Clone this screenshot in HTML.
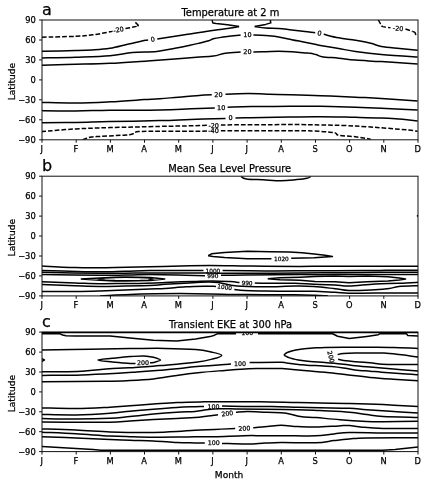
<!DOCTYPE html>
<html><head><meta charset="utf-8"><title>figure</title>
<style>html,body{margin:0;padding:0;background:#fff}svg{display:block}text{font-family:"DejaVu Sans","Liberation Sans",sans-serif;fill:#000;stroke:#000;stroke-width:0.25px}</style>
</head><body>
<svg width="427" height="484" viewBox="0 0 427 484">
<rect width="427" height="484" fill="#fff"/>
<g>
<clipPath id="cpa"><rect x="42.0" y="20.0" width="376.0" height="119.8"/></clipPath>
<g clip-path="url(#cpa)" fill="none" stroke="#000" stroke-width="1.50" stroke-linejoin="round">
<path d="M42.0 51.2 C48.1 51.1 66.8 50.8 75.8 50.6 C84.8 50.4 85.8 50.4 92.0 50.0 C98.2 49.6 103.4 49.4 110.0 48.3 C116.6 47.2 122.3 45.4 128.7 44.0 C135.1 42.6 142.1 41.0 145.6 40.3 C149.1 39.6 147.6 40.0 148.0 39.9"/>
<path d="M157.3 38.9 C160.5 38.4 169.1 37.2 175.0 36.3 C180.9 35.4 185.3 34.7 190.0 34.0 C194.7 33.3 196.8 33.0 201.2 32.3 C205.6 31.6 209.6 30.9 214.3 30.2 C219.0 29.5 223.0 29.1 227.5 28.5 C232.0 27.9 237.0 26.9 239.1 26.6"/>
<path d="M239.1 26.6 L227.5 24.7 L216.2 23.6 L212.8 22.9 L212.1 20.0"/>
<path d="M270.3 20.0 L270.8 22.9 L265.6 24.4 L254.7 26.6"/>
<path d="M254.7 26.6 C256.7 26.9 261.3 27.8 265.6 28.1 C269.9 28.4 274.0 28.2 278.7 28.5 C283.4 28.8 287.1 29.5 291.8 30.0 C296.5 30.5 300.7 31.0 304.9 31.5 C309.1 32.0 313.3 32.6 315.2 32.8"/>
<path d="M323.7 34.3 C326.4 34.9 333.0 36.8 338.7 37.8 C344.4 38.9 349.7 39.3 355.5 40.3 C361.2 41.3 366.0 42.2 370.7 43.3 C375.3 44.4 376.1 45.4 381.3 46.4 C386.5 47.3 393.1 47.8 399.6 48.5 C406.1 49.2 414.3 50.0 417.6 50.3"/>
<path d="M42.0 57.9 C48.1 57.8 63.6 57.7 75.8 57.3 C88.0 56.9 99.8 56.7 110.0 55.8 C120.2 54.9 124.1 53.3 132.5 52.5 C140.9 51.7 149.2 52.3 156.8 51.5 C164.5 50.7 169.0 49.4 175.0 48.3 C181.0 47.2 185.3 46.3 190.0 45.3 C194.7 44.3 197.8 43.5 201.2 42.7 C204.6 41.9 206.3 41.5 208.7 40.8 C211.1 40.1 210.9 39.4 214.3 38.6 C217.7 37.8 222.8 37.1 227.5 36.5 C232.2 35.9 238.2 35.3 240.6 35.0"/>
<path d="M253.4 34.9 C255.6 35.0 261.0 35.2 265.6 35.6 C270.2 36.0 274.0 36.2 278.7 36.9 C283.4 37.6 287.1 38.7 291.8 39.7 C296.5 40.7 300.5 41.3 304.9 42.2 C309.3 43.1 313.4 44.0 316.2 44.6 C319.0 45.2 316.4 44.7 320.4 45.4 C324.5 46.1 332.4 47.4 338.7 48.5 C345.0 49.6 347.8 50.4 355.5 51.5 C363.1 52.6 370.2 53.6 381.3 54.6 C392.5 55.6 411.0 56.6 417.6 57.0"/>
<path d="M42.0 65.2 C48.1 65.0 63.6 64.6 75.8 64.3 C88.0 64.0 97.1 63.9 110.0 63.3 C122.9 62.7 135.3 61.7 147.5 60.9 C159.7 60.1 169.2 59.4 178.0 58.7 C186.8 58.0 190.1 57.7 196.5 57.2 C202.9 56.7 208.1 56.8 213.3 56.1 C218.5 55.4 220.5 53.9 225.4 53.2 C230.3 52.5 237.9 52.3 240.7 52.1"/>
<path d="M253.4 51.9 C255.6 51.9 261.0 51.8 265.6 51.7 C270.2 51.6 274.0 51.3 278.7 51.3 C283.4 51.3 287.1 51.4 291.8 51.7 C296.5 52.0 301.9 52.8 304.9 53.0 C307.9 53.2 306.3 52.8 308.3 53.1 C310.2 53.3 313.4 53.9 315.9 54.6 C318.3 55.2 317.9 56.1 322.0 56.7 C326.1 57.4 332.7 57.6 338.7 58.2 C344.7 58.8 347.8 59.5 355.5 60.1 C363.1 60.7 370.2 60.9 381.3 61.6 C392.5 62.3 411.0 63.6 417.6 64.0"/>
<path d="M41.4 102.4 C47.6 102.5 63.5 103.1 75.8 103.0 C88.1 102.9 97.6 102.4 109.9 101.8 C122.2 101.2 135.0 100.2 144.0 99.6 C153.0 99.1 153.8 99.2 160.0 98.7 C166.2 98.3 171.7 97.7 178.3 97.2 C184.8 96.7 190.5 96.1 196.5 95.7 C202.6 95.2 209.0 94.9 211.8 94.8"/>
<path d="M225.5 94.2 C229.6 94.0 240.3 93.5 248.3 93.5 C256.2 93.5 262.1 93.9 269.6 94.2 C277.1 94.4 280.8 94.5 290.0 94.8 C299.2 95.0 308.7 95.2 320.4 95.7 C332.2 96.1 344.5 96.7 355.5 97.2 C366.4 97.7 370.2 97.8 381.3 98.4 C392.5 99.1 411.0 100.4 417.6 100.9"/>
<path d="M41.4 110.6 C47.6 110.7 63.5 111.0 75.8 110.9 C88.1 110.8 94.7 110.5 109.9 110.3 C125.1 110.1 145.5 110.3 160.0 110.0 C174.5 109.7 180.6 109.2 190.4 108.8 C200.3 108.4 210.4 108.0 214.8 107.9"/>
<path d="M227.6 107.2 C231.9 107.1 240.1 106.8 251.3 106.6 C262.6 106.5 277.6 106.4 290.0 106.3 C302.4 106.3 308.7 106.2 320.4 106.3 C332.2 106.5 344.5 106.9 355.5 107.2 C366.4 107.6 370.2 107.7 381.3 108.2 C392.5 108.7 411.0 109.7 417.6 110.0"/>
<path d="M41.4 122.8 C47.6 122.7 63.5 122.7 75.8 122.5 C88.1 122.3 94.7 121.9 109.9 121.6 C125.1 121.2 145.5 121.0 160.0 120.6 C174.5 120.3 178.7 119.8 190.4 119.4 C202.2 119.0 219.2 118.7 225.5 118.5"/>
<path d="M235.5 117.9 C240.5 117.8 253.7 117.8 263.5 117.6 C273.3 117.4 279.8 117.2 290.0 117.0 C300.2 116.8 308.7 116.6 320.4 116.7 C332.2 116.7 344.5 117.1 355.5 117.3 C366.4 117.5 373.4 117.6 381.3 117.9 C389.3 118.2 393.1 118.6 399.6 119.1 C406.1 119.7 414.3 120.6 417.6 120.9"/>
<path d="M41.4 131.6 C47.6 131.1 63.5 129.6 75.8 128.9 C88.1 128.2 94.7 128.1 109.9 127.6 C125.1 127.2 145.5 126.8 160.0 126.4 C174.5 126.1 181.7 126.0 190.4 125.8 C199.2 125.6 205.4 125.3 208.7 125.2" stroke-dasharray="4.7 2.0"/>
<path d="M220.9 124.9 C233.3 124.9 272.1 124.6 290.0 124.6 C307.9 124.6 310.6 124.7 320.4 124.9 C330.3 125.1 336.6 125.2 344.8 125.5 C353.0 125.8 358.4 126.2 366.1 126.7 C373.8 127.2 379.8 127.7 387.4 128.3 C395.1 128.9 403.3 129.5 408.7 130.1 C414.2 130.6 416.0 131.1 417.6 131.3" stroke-dasharray="4.7 2.0"/>
<path d="M82.7 139.8 C83.3 139.5 84.5 139.0 86.0 138.5 C87.5 138.0 88.7 137.5 91.2 137.1 C93.7 136.7 95.7 136.7 100.0 136.4 C104.3 136.1 110.3 135.9 115.0 135.6 C119.7 135.3 122.9 135.3 126.0 135.0 C129.1 134.7 130.2 134.7 132.4 134.0 C134.7 133.4 133.5 132.1 138.5 131.6 C143.5 131.1 150.7 131.4 160.0 131.3 C169.3 131.2 181.7 131.4 190.4 131.3 C199.2 131.2 205.4 131.1 208.7 131.0" stroke-dasharray="4.7 2.0"/>
<path d="M220.9 130.7 C233.3 130.7 273.2 130.6 290.0 130.7 C306.8 130.7 307.2 130.7 314.4 131.0 C321.5 131.3 325.7 131.8 329.6 132.2 C333.4 132.6 334.0 132.6 335.7 133.1 C337.3 133.7 335.1 134.6 338.7 135.3 C342.3 135.9 349.7 136.1 355.5 136.8 C361.2 137.5 367.9 138.8 370.7 139.2" stroke-dasharray="4.7 2.0"/>
<path d="M42.0 37.2 C48.1 37.0 66.7 36.7 75.8 36.3 C84.9 35.9 86.6 35.6 92.8 34.8 C99.0 34.0 106.5 32.4 110.0 31.8 C113.5 31.2 112.0 31.3 112.5 31.2" stroke-dasharray="4.7 2.0"/>
<path d="M125.5 28.6 L137.6 26.2" stroke-dasharray="4.7 2.0"/>
<path d="M137.6 26.2 L138.3 25.2 L135.4 22.4"/>
<path d="M378.3 19.9 C378.7 20.6 379.9 22.9 380.7 24.1 C381.5 25.3 381.1 25.9 382.9 26.6 C384.6 27.2 389.1 27.6 390.5 27.8" stroke-dasharray="4.7 2.0"/>
<path d="M405.5 29.0 L412.5 31.4" stroke-dasharray="4.7 2.0"/>
<path d="M412.5 31.4 L415.0 32.4 L415.9 34.9"/>
</g>
<g clip-path="url(#cpa)">
<g transform="translate(152.7 39.4) rotate(-12.0)">
<text x="0" y="2.3" font-size="6.5" text-anchor="middle">0</text>
</g>
<g transform="translate(319.5 33.2) rotate(12.0)">
<text x="0" y="2.3" font-size="6.5" text-anchor="middle">0</text>
</g>
<g transform="translate(247.4 34.8) rotate(0.0)">
<text x="0" y="2.3" font-size="6.5" text-anchor="middle">10</text>
</g>
<g transform="translate(247.4 51.8) rotate(0.0)">
<text x="0" y="2.3" font-size="6.5" text-anchor="middle">20</text>
</g>
<g transform="translate(218.5 94.8) rotate(0.0)">
<text x="0" y="2.3" font-size="6.5" text-anchor="middle">20</text>
</g>
<g transform="translate(221.2 107.6) rotate(0.0)">
<text x="0" y="2.3" font-size="6.5" text-anchor="middle">10</text>
</g>
<g transform="translate(230.6 117.9) rotate(0.0)">
<text x="0" y="2.3" font-size="6.5" text-anchor="middle">0</text>
</g>
<g transform="translate(213.7 125.3) rotate(0.0)">
<text x="0" y="2.3" font-size="6.5" text-anchor="middle">-20</text>
</g>
<g transform="translate(213.5 130.9) rotate(0.0)">
<text x="0" y="2.3" font-size="6.5" text-anchor="middle">-40</text>
</g>
<g transform="translate(118.5 29.7) rotate(-10.0)">
<text x="0" y="2.3" font-size="6.5" text-anchor="middle">-20</text>
</g>
<g transform="translate(398.1 28.4) rotate(6.0)">
<text x="0" y="2.3" font-size="6.5" text-anchor="middle">-20</text>
</g>
</g>
<rect x="42.0" y="20.0" width="376.0" height="119.8" fill="none" stroke="#111" stroke-width="1.00"/>
<path d="M42.0 20.0h-2.9M42.0 40.0h-2.9M42.0 59.9h-2.9M42.0 79.9h-2.9M42.0 99.8h-2.9M42.0 119.8h-2.9M42.0 139.8h-2.9M42.0 139.8v2.9M76.2 139.8v2.9M110.4 139.8v2.9M144.5 139.8v2.9M178.7 139.8v2.9M212.9 139.8v2.9M247.1 139.8v2.9M281.3 139.8v2.9M315.5 139.8v2.9M349.6 139.8v2.9M383.8 139.8v2.9M418.0 139.8v2.9" stroke="#111" stroke-width="1.00" fill="none"/>
<text x="35.7" y="23.1" font-size="8.3" text-anchor="end">90</text>
<text x="35.7" y="43.1" font-size="8.3" text-anchor="end">60</text>
<text x="35.7" y="63.0" font-size="8.3" text-anchor="end">30</text>
<text x="35.7" y="83.0" font-size="8.3" text-anchor="end">0</text>
<text x="35.7" y="102.9" font-size="8.3" text-anchor="end">−30</text>
<text x="35.7" y="122.9" font-size="8.3" text-anchor="end">−60</text>
<text x="35.7" y="142.8" font-size="8.3" text-anchor="end">−90</text>
<text x="41.7" y="152.2" font-size="8.3" text-anchor="middle">J</text>
<text x="75.9" y="152.2" font-size="8.3" text-anchor="middle">F</text>
<text x="110.1" y="152.2" font-size="8.3" text-anchor="middle">M</text>
<text x="144.2" y="152.2" font-size="8.3" text-anchor="middle">A</text>
<text x="178.4" y="152.2" font-size="8.3" text-anchor="middle">M</text>
<text x="212.6" y="152.2" font-size="8.3" text-anchor="middle">J</text>
<text x="246.8" y="152.2" font-size="8.3" text-anchor="middle">J</text>
<text x="281.0" y="152.2" font-size="8.3" text-anchor="middle">A</text>
<text x="315.2" y="152.2" font-size="8.3" text-anchor="middle">S</text>
<text x="349.3" y="152.2" font-size="8.3" text-anchor="middle">O</text>
<text x="383.5" y="152.2" font-size="8.3" text-anchor="middle">N</text>
<text x="417.7" y="152.2" font-size="8.3" text-anchor="middle">D</text>
<text x="230.4" y="15.8" font-size="9.90" text-anchor="middle">Temperature at 2 m</text>
<text x="41.9" y="14.8" font-size="16.0">a</text>
<text transform="translate(14.5 81.6) rotate(-90)" font-size="9.1" text-anchor="middle">Latitude</text>
</g>
<g>
<clipPath id="cpb"><rect x="42.0" y="176.2" width="376.0" height="119.7"/></clipPath>
<g clip-path="url(#cpb)" fill="none" stroke="#000" stroke-width="1.50" stroke-linejoin="round">
<path d="M42.0 266.0 C47.9 266.3 64.6 267.2 75.0 267.5 C85.4 267.8 92.8 267.7 100.0 267.7 C107.2 267.7 106.0 267.8 115.0 267.6 C124.0 267.4 136.5 267.1 150.0 266.8 C163.5 266.5 179.2 266.0 190.0 265.7 C200.8 265.4 201.0 265.4 210.0 265.4 C219.0 265.4 230.1 265.7 240.0 265.9 C249.9 266.1 254.2 266.2 265.0 266.3 C275.8 266.4 287.4 266.4 300.0 266.4 C312.6 266.4 313.8 266.2 335.0 266.2 C356.2 266.2 403.1 266.2 418.0 266.2"/>
<path d="M42.0 270.6 C47.0 270.7 59.6 271.0 70.0 271.2 C80.4 271.5 90.1 271.7 100.0 271.8 C109.9 271.8 116.0 271.5 125.0 271.3 C134.0 271.2 135.9 270.8 150.0 270.6 C164.1 270.5 193.9 270.6 203.5 270.6"/>
<path d="M222.6 270.6 C230.2 270.7 251.1 270.9 265.0 270.9 C278.9 271.0 287.4 270.9 300.0 270.8 C312.6 270.8 320.6 270.9 335.0 270.8 C349.4 270.8 365.1 270.5 380.0 270.4 C394.9 270.3 411.2 270.3 418.0 270.3"/>
<path d="M42.0 272.3 C52.4 272.5 85.1 273.2 100.0 273.3 C114.9 273.5 116.0 273.3 125.0 273.2 C134.0 273.2 135.6 273.0 150.0 272.9 C164.4 272.9 187.9 273.1 205.0 273.1 C222.1 273.2 227.9 273.4 245.0 273.3 C262.1 273.3 282.9 273.1 300.0 272.9 C317.1 272.8 325.6 272.8 340.0 272.7 C354.4 272.6 366.0 272.4 380.0 272.3 C394.0 272.2 411.2 272.2 418.0 272.2"/>
<path d="M42.0 274.4 C52.4 274.6 85.1 275.1 100.0 275.2 C114.9 275.4 116.0 275.2 125.0 275.1 C134.0 274.9 140.5 274.6 150.0 274.6 C159.5 274.6 168.1 274.8 178.0 275.1 C187.9 275.3 200.1 275.7 205.0 275.8"/>
<path d="M221.0 275.3 C225.3 275.3 230.8 275.3 245.0 275.1 C259.2 275.0 283.8 274.7 300.0 274.6 C316.2 274.6 320.6 274.7 335.0 274.6 C349.4 274.6 365.1 274.5 380.0 274.5 C394.9 274.5 411.2 274.4 418.0 274.4"/>
<path d="M80.8 279.0 L100.0 277.9 L115.0 277.3 L125.0 276.9 L150.0 277.4 L164.7 279.0 L150.0 280.6 L125.0 281.1 L115.0 280.9 L100.0 280.2 L80.8 279.0"/>
<path d="M97.8 279.0 L105.0 278.0 L115.0 277.6 L125.0 277.5 L140.0 277.6 L148.0 278.0 L153.3 279.0 L148.0 280.0 L140.0 280.4 L125.0 280.5 L115.0 280.4 L105.0 280.0 L97.8 279.0" stroke-width="1.1"/>
<path d="M267.7 278.8 L280.0 277.7 L300.0 277.2 L315.0 276.5 L335.0 276.0 L349.0 276.6 L367.0 275.9 L388.0 276.7 L399.3 278.1 L405.5 279.1 L399.3 280.1 L388.0 281.1 L367.0 281.8 L349.0 282.8 L335.0 281.7 L315.0 281.4 L300.0 280.2 L280.0 279.7 L267.7 278.8"/>
<path d="M42.0 281.8 C47.9 282.0 64.6 282.7 75.0 283.0 C85.4 283.3 91.0 283.6 100.0 283.7 C109.0 283.8 115.1 283.6 125.0 283.5 C134.9 283.4 147.8 283.1 155.0 282.9 C162.2 282.7 158.2 282.7 165.0 282.4 C171.8 282.1 184.4 281.8 193.0 281.5 C201.6 281.2 205.9 280.9 212.6 280.9 C219.3 280.9 225.2 281.3 230.0 281.6 C234.8 281.9 237.8 282.4 239.5 282.6"/>
<path d="M254.8 283.1 C258.4 283.1 267.8 283.3 275.0 283.3 C282.2 283.3 288.0 283.1 295.0 283.3 C302.0 283.5 306.5 283.9 313.7 284.2 C320.9 284.5 328.6 284.7 335.0 285.0 C341.4 285.3 341.8 286.3 349.0 286.1 C356.2 285.9 366.1 284.4 375.0 283.9 C383.9 283.4 391.0 283.6 398.7 283.3 C406.4 283.0 414.5 282.5 418.0 282.3"/>
<path d="M42.0 284.6 C47.9 284.8 64.6 285.5 75.0 285.8 C85.4 286.1 91.0 286.4 100.0 286.4 C109.0 286.4 115.1 286.2 125.0 286.0 C134.9 285.8 147.8 285.5 155.0 285.2 C162.2 284.9 158.2 284.7 165.0 284.3 C171.8 283.9 185.3 283.2 193.0 282.8 C200.7 282.4 203.5 282.0 208.0 282.0 C212.5 282.0 212.8 281.9 218.0 282.6 C223.2 283.3 228.5 285.3 237.0 286.0 C245.5 286.7 254.6 286.7 265.0 286.7 C275.4 286.7 286.2 286.1 295.0 286.1 C303.8 286.1 306.5 286.0 313.7 286.5 C320.9 287.0 328.6 288.0 335.0 288.7 C341.4 289.4 341.8 290.3 349.0 290.5 C356.2 290.7 367.7 290.1 375.0 289.8 C382.3 289.5 385.0 289.2 389.3 288.6 C393.6 288.0 393.5 287.0 398.7 286.5 C403.9 286.0 414.5 285.9 418.0 285.8"/>
<path d="M42.0 291.5 C47.9 291.5 64.6 291.6 75.0 291.5 C85.4 291.4 91.0 291.2 100.0 290.9 C109.0 290.6 116.0 290.4 125.0 290.0 C134.0 289.6 142.8 289.2 150.0 288.9 C157.2 288.6 158.5 288.8 165.0 288.4 C171.5 288.0 178.8 287.2 186.0 286.8 C193.2 286.4 199.6 286.3 205.0 286.2 C210.4 286.1 214.0 286.4 216.0 286.4"/>
<path d="M234.3 289.4 C236.1 289.6 238.8 290.3 244.3 290.6 C249.8 290.9 255.9 290.9 265.0 291.0 C274.1 291.1 286.2 291.2 295.0 291.3 C303.8 291.4 306.5 291.1 313.7 291.3 C320.9 291.5 328.6 292.0 335.0 292.3 C341.4 292.6 341.8 293.1 349.0 293.2 C356.2 293.3 362.6 293.1 375.0 293.1 C387.4 293.1 410.3 293.0 418.0 292.9"/>
<path d="M100.0 295.9 C102.2 295.8 107.5 295.4 112.0 295.2 C116.5 295.0 117.3 295.0 125.0 294.7 C132.7 294.4 145.1 294.0 155.0 293.8 C164.9 293.6 170.1 293.6 180.0 293.6 C189.9 293.6 199.2 293.7 210.0 293.9 C220.8 294.1 230.1 294.4 240.0 294.5 C249.9 294.6 255.1 294.7 265.0 294.7 C274.9 294.7 286.0 294.6 295.0 294.7 C304.0 294.8 309.1 295.0 315.0 295.2 C320.9 295.4 325.7 295.8 328.0 295.9"/>
<path d="M208.2 255.7 L211.5 253.8 L224.6 252.5 L247.5 251.2 L270.0 251.7 L289.6 252.0 L302.0 252.7 L314.2 253.9 L325.0 255.2 L332.4 256.5 L314.2 257.7 L291.2 258.2"/>
<path d="M271.5 258.8 L247.5 258.7 L224.6 257.6 L213.0 256.4 L208.2 255.7"/>
<path d="M241.0 176.3 C241.9 176.8 242.2 178.3 246.2 178.9 C250.2 179.5 256.8 179.5 263.0 179.8 C269.2 180.1 274.8 180.7 280.9 180.7 C287.0 180.7 292.1 180.0 296.8 179.6 C301.5 179.2 304.5 178.9 307.0 178.3 C309.5 177.7 310.1 176.7 310.8 176.3"/>
<path d="M417.6 215.0 L417.6 216.8"/>
</g>
<g clip-path="url(#cpb)">
<g transform="translate(212.9 270.6) rotate(0.0)">
<text x="0" y="2.1" font-size="5.8" text-anchor="middle">1000</text>
</g>
<g transform="translate(212.8 275.7) rotate(0.0)">
<text x="0" y="2.1" font-size="5.8" text-anchor="middle">990</text>
</g>
<g transform="translate(247.1 283.0) rotate(2.0)">
<text x="0" y="2.1" font-size="5.8" text-anchor="middle">990</text>
</g>
<g transform="translate(224.7 287.1) rotate(8.0)">
<text x="0" y="2.1" font-size="5.8" text-anchor="middle">1000</text>
</g>
<g transform="translate(281.4 258.4) rotate(0.0)">
<text x="0" y="2.1" font-size="5.8" text-anchor="middle">1020</text>
</g>
</g>
<rect x="42.0" y="176.2" width="376.0" height="119.7" fill="none" stroke="#111" stroke-width="1.00"/>
<path d="M42.0 176.2h-2.9M42.0 196.1h-2.9M42.0 216.1h-2.9M42.0 236.0h-2.9M42.0 256.0h-2.9M42.0 275.9h-2.9M42.0 295.9h-2.9M42.0 295.9v2.9M76.2 295.9v2.9M110.4 295.9v2.9M144.5 295.9v2.9M178.7 295.9v2.9M212.9 295.9v2.9M247.1 295.9v2.9M281.3 295.9v2.9M315.5 295.9v2.9M349.6 295.9v2.9M383.8 295.9v2.9M418.0 295.9v2.9" stroke="#111" stroke-width="1.00" fill="none"/>
<text x="35.7" y="179.3" font-size="8.3" text-anchor="end">90</text>
<text x="35.7" y="199.2" font-size="8.3" text-anchor="end">60</text>
<text x="35.7" y="219.2" font-size="8.3" text-anchor="end">30</text>
<text x="35.7" y="239.1" font-size="8.3" text-anchor="end">0</text>
<text x="35.7" y="259.1" font-size="8.3" text-anchor="end">−30</text>
<text x="35.7" y="279.0" font-size="8.3" text-anchor="end">−60</text>
<text x="35.7" y="298.9" font-size="8.3" text-anchor="end">−90</text>
<text x="41.7" y="308.2" font-size="8.3" text-anchor="middle">J</text>
<text x="75.9" y="308.2" font-size="8.3" text-anchor="middle">F</text>
<text x="110.1" y="308.2" font-size="8.3" text-anchor="middle">M</text>
<text x="144.2" y="308.2" font-size="8.3" text-anchor="middle">A</text>
<text x="178.4" y="308.2" font-size="8.3" text-anchor="middle">M</text>
<text x="212.6" y="308.2" font-size="8.3" text-anchor="middle">J</text>
<text x="246.8" y="308.2" font-size="8.3" text-anchor="middle">J</text>
<text x="281.0" y="308.2" font-size="8.3" text-anchor="middle">A</text>
<text x="315.2" y="308.2" font-size="8.3" text-anchor="middle">S</text>
<text x="349.3" y="308.2" font-size="8.3" text-anchor="middle">O</text>
<text x="383.5" y="308.2" font-size="8.3" text-anchor="middle">N</text>
<text x="417.7" y="308.2" font-size="8.3" text-anchor="middle">D</text>
<text x="229.7" y="171.7" font-size="9.90" text-anchor="middle">Mean Sea Level Pressure</text>
<text x="41.9" y="171.0" font-size="16.0">b</text>
<text transform="translate(14.5 237.7) rotate(-90)" font-size="9.1" text-anchor="middle">Latitude</text>
</g>
<g>
<clipPath id="cpc"><rect x="42.0" y="332.1" width="376.0" height="119.5"/></clipPath>
<g clip-path="url(#cpc)" fill="none" stroke="#000" stroke-width="1.50" stroke-linejoin="round">
<path d="M42.0 333.8 L60.0 333.8 L62.6 335.0 L66.0 335.7 L74.8 335.9 L110.0 335.9 L130.0 337.9 L153.4 340.2 L176.8 340.9 L195.6 339.0 L210.0 336.6 L214.5 335.2 L217.2 333.8 L236.0 333.8"/>
<path d="M258.0 333.8 L332.6 333.8 L337.6 336.2 L349.3 338.6 L366.8 336.4 L378.3 334.7 L379.7 333.8 L406.5 333.8 L407.8 335.6 L418.0 336.1"/>
<path d="M42.0 349.9 C50.6 349.8 74.2 349.4 90.0 349.2 C105.8 349.0 116.5 348.7 130.0 348.6 C143.5 348.5 153.2 348.2 165.0 348.4 C176.8 348.6 187.1 348.9 195.6 349.6 C204.1 350.3 207.3 351.2 212.0 352.2 C216.7 353.2 221.8 354.2 221.8 355.4 C221.8 356.6 216.4 357.9 212.0 359.1 C207.6 360.3 203.8 361.2 197.5 362.1 C191.2 363.0 183.6 363.7 176.8 364.3 C170.1 364.9 165.5 365.2 160.0 365.6 C154.5 366.0 150.7 366.4 146.2 366.7 C141.7 367.0 140.1 367.1 135.0 367.4 C129.9 367.7 126.1 367.8 118.0 368.3 C109.9 368.8 97.3 369.8 90.0 370.4 C82.7 371.0 85.8 371.1 77.2 371.4 C68.6 371.7 48.3 371.7 42.0 371.8"/>
<path d="M42.0 358.7 L44.4 360.0 L42.0 361.3"/>
<path d="M150.0 362.9 C150.6 362.8 151.5 363.0 153.4 362.5 C155.3 362.0 160.4 361.0 160.4 360.1 C160.4 359.2 156.4 358.1 153.4 357.3 C150.4 356.5 148.2 356.0 144.0 355.9 C139.8 355.8 135.7 356.2 130.0 356.6 C124.3 357.0 118.1 357.7 112.3 358.3 C106.5 358.9 97.8 359.4 97.8 360.1 C97.8 360.8 106.5 361.4 112.3 362.0 C118.1 362.6 125.8 363.1 130.0 363.4 C134.2 363.7 134.5 363.5 135.5 363.5"/>
<path d="M42.0 375.4 C49.2 375.3 68.1 375.3 81.8 374.9 C95.5 374.5 108.1 373.8 118.0 373.3 C127.9 372.8 129.2 372.6 136.8 372.0 C144.4 371.4 152.8 370.8 160.0 370.2 C167.2 369.6 170.1 369.4 176.8 368.7 C183.5 368.0 188.3 367.3 197.0 366.5 C205.7 365.7 218.9 365.0 225.0 364.5 C231.1 364.0 229.9 364.0 231.0 363.9"/>
<path d="M249.6 362.5 C255.3 362.5 274.5 362.2 281.2 362.3 C287.9 362.4 283.6 362.7 286.7 363.1 C289.8 363.5 294.2 364.0 298.4 364.4 C302.6 364.8 306.2 365.3 310.1 365.5 C314.0 365.7 316.1 365.5 320.0 365.7 C323.9 365.9 327.5 366.1 331.7 366.5 C335.9 366.9 339.2 367.3 343.4 367.9 C347.6 368.5 350.3 369.3 355.1 369.9 C359.9 370.5 365.2 370.8 370.0 371.2 C374.8 371.6 376.4 371.8 381.7 372.2 C387.0 372.6 392.8 373.1 399.3 373.6 C405.8 374.1 414.6 374.6 418.0 374.8"/>
<path d="M42.0 381.7 C53.4 381.6 89.5 381.4 105.3 381.2 C121.1 381.0 121.3 380.9 130.0 380.5 C138.7 380.1 145.0 379.8 153.4 378.9 C161.8 378.0 168.4 376.6 176.8 375.4 C185.2 374.2 191.6 373.4 200.3 372.5 C209.0 371.6 216.3 371.1 225.0 370.4 C233.7 369.7 241.2 369.0 248.4 368.7 C255.6 368.4 259.0 368.6 265.0 368.6 C271.0 368.6 277.0 368.4 282.0 368.6 C287.0 368.8 287.5 369.2 292.6 369.6 C297.7 370.0 304.3 370.5 310.1 371.0 C315.9 371.5 318.7 371.7 325.0 372.3 C331.3 372.9 336.9 373.7 345.0 374.6 C353.1 375.5 361.3 376.6 370.0 377.4 C378.7 378.2 384.8 378.6 393.4 379.2 C402.0 379.8 413.6 380.4 418.0 380.7"/>
<path d="M418.0 348.4 C413.6 348.3 402.0 347.8 393.4 347.6 C384.8 347.4 379.0 347.4 370.0 347.3 C361.0 347.2 351.5 347.2 343.4 347.3 C335.3 347.4 329.9 347.5 325.0 347.6 C320.1 347.7 319.7 347.6 316.0 347.8 C312.3 348.0 308.5 348.3 304.3 348.8 C300.1 349.3 296.2 349.8 292.6 350.8 C289.0 351.8 285.0 353.4 284.4 354.6 C283.8 355.8 286.5 356.6 289.0 357.6 C291.5 358.6 294.6 359.2 298.4 359.9 C302.2 360.6 305.3 361.0 310.1 361.5 C314.9 362.0 319.0 362.1 325.0 362.6 C331.0 363.1 338.0 363.6 343.4 364.2 C348.8 364.8 350.3 365.3 355.1 365.8 C359.9 366.3 363.1 366.4 370.0 367.0 C376.9 367.6 384.8 368.3 393.4 369.0 C402.0 369.7 413.6 370.6 418.0 371.0"/>
<path d="M418.0 357.0 C414.6 356.6 405.4 355.3 399.3 354.6 C393.2 353.9 389.3 353.4 384.0 353.1 C378.7 352.8 375.2 353.1 370.0 353.1 C364.8 353.1 359.9 352.8 355.1 352.9 C350.3 353.0 346.5 353.2 343.4 353.5 C340.2 353.8 338.6 354.4 337.6 354.6"/>
<path d="M338.1 359.3 C339.1 359.5 340.3 360.1 343.4 360.5 C346.5 360.9 350.3 361.3 355.1 361.7 C359.9 362.1 365.1 362.4 370.0 362.8 C374.9 363.2 377.2 363.9 382.5 364.2 C387.8 364.5 392.9 364.5 399.3 364.6 C405.7 364.7 414.6 364.5 418.0 364.5"/>
<path d="M42.0 407.9 C48.1 408.0 63.8 408.7 76.0 408.6 C88.2 408.5 100.3 407.7 110.0 407.2 C119.7 406.7 122.2 406.3 130.0 405.7 C137.8 405.1 145.0 404.7 153.4 404.1 C161.8 403.5 168.4 402.9 176.8 402.5 C185.2 402.1 190.7 402.0 200.3 401.9 C209.9 401.8 219.3 401.8 230.0 401.8 C240.7 401.8 247.8 401.6 260.0 401.7 C272.1 401.8 286.7 402.3 297.5 402.5 C308.3 402.7 310.7 402.8 320.0 403.0 C329.3 403.2 337.9 403.1 349.3 403.4 C360.7 403.7 370.8 404.0 383.2 404.6 C395.6 405.2 411.7 406.2 418.0 406.5"/>
<path d="M42.0 414.4 C48.1 414.5 63.8 415.1 76.0 414.9 C88.2 414.7 100.3 413.9 110.0 413.2 C119.7 412.5 122.2 411.9 130.0 411.2 C137.8 410.5 145.0 410.0 153.4 409.3 C161.8 408.6 169.3 408.0 176.8 407.5 C184.3 407.0 190.1 406.9 195.0 406.7 C199.9 406.5 202.4 406.5 204.0 406.4"/>
<path d="M222.0 406.1 C226.0 406.2 235.2 406.4 244.2 406.5 C253.2 406.6 262.2 406.5 271.8 406.6 C281.4 406.7 288.8 407.0 297.5 407.2 C306.2 407.4 310.7 407.6 320.0 407.8 C329.3 408.0 340.9 407.9 349.3 408.3 C357.7 408.7 359.4 409.3 366.8 409.8 C374.2 410.3 381.1 410.7 390.3 411.3 C399.5 411.9 413.0 412.6 418.0 412.9"/>
<path d="M42.0 418.5 C48.1 418.6 63.8 419.1 76.0 419.0 C88.2 418.9 100.3 418.6 110.0 418.2 C119.7 417.8 122.2 417.2 130.0 416.5 C137.8 415.8 145.0 414.9 153.4 414.1 C161.8 413.3 169.3 412.7 176.8 412.2 C184.3 411.7 189.7 411.8 195.0 411.4 C200.3 411.0 202.1 410.3 206.5 409.8 C210.9 409.3 214.3 409.0 219.6 408.8 C224.9 408.6 227.8 408.8 236.0 408.9 C244.2 409.0 253.9 409.1 265.0 409.2 C276.1 409.3 287.6 409.4 297.5 409.7 C307.4 410.0 310.7 410.2 320.0 410.6 C329.3 411.1 340.9 411.5 349.3 412.2 C357.7 412.9 360.7 413.8 366.8 414.6 C372.9 415.4 374.0 416.0 383.2 416.5 C392.4 417.0 411.7 417.3 418.0 417.5"/>
<path d="M42.0 421.9 C48.1 422.0 63.8 422.2 76.0 422.3 C88.2 422.4 100.3 422.4 110.0 422.2 C119.7 422.0 122.2 421.5 130.0 421.0 C137.8 420.5 145.0 420.1 153.4 419.6 C161.8 419.1 169.3 418.8 176.8 418.4 C184.3 418.0 189.4 418.0 195.0 417.6 C200.6 417.2 204.0 416.5 208.1 416.0 C212.2 415.5 216.2 414.9 218.0 414.7"/>
<path d="M236.0 412.2 C238.1 412.1 241.9 411.4 247.5 411.4 C253.1 411.4 260.2 412.0 267.2 412.3 C274.2 412.6 280.2 412.4 286.2 413.2 C292.2 414.0 294.9 415.7 300.3 416.5 C305.7 417.3 309.1 417.0 316.2 417.6 C323.3 418.2 330.9 419.0 340.0 419.7 C349.1 420.4 359.0 421.0 366.8 421.4 C374.6 421.8 374.0 421.7 383.2 421.7 C392.4 421.7 411.7 421.4 418.0 421.3"/>
<path d="M42.0 428.9 C48.1 429.1 63.8 429.5 76.0 430.1 C88.2 430.7 100.3 431.6 110.0 432.0 C119.7 432.4 122.2 432.4 130.0 432.5 C137.8 432.6 145.0 432.7 153.4 432.5 C161.8 432.3 169.3 431.9 176.8 431.5 C184.3 431.1 188.2 430.6 195.0 430.2 C201.8 429.8 207.5 429.7 214.7 429.4 C221.9 429.1 231.5 428.7 235.2 428.6"/>
<path d="M253.2 427.8 C255.7 427.6 262.2 427.1 267.2 426.6 C272.2 426.2 275.7 425.3 281.2 425.3 C286.7 425.3 291.3 426.2 297.5 426.5 C303.7 426.8 308.2 427.2 315.6 427.1 C323.0 427.0 332.6 426.2 338.7 425.9 C344.8 425.6 345.1 425.3 349.3 425.5 C353.5 425.7 355.9 426.7 362.0 427.2 C368.1 427.7 373.1 428.2 383.2 428.4 C393.3 428.6 411.7 428.4 418.0 428.4"/>
<path d="M42.0 432.2 C48.1 432.5 63.8 433.1 76.0 433.8 C88.2 434.5 100.3 435.5 110.0 436.0 C119.7 436.5 122.2 436.5 130.0 436.7 C137.8 436.9 145.0 437.1 153.4 437.2 C161.8 437.3 169.3 437.2 176.8 437.1 C184.3 437.0 188.2 436.9 195.0 436.8 C201.8 436.7 205.8 437.0 214.7 436.8 C223.6 436.6 235.1 435.9 244.2 435.7 C253.3 435.5 255.8 435.7 265.0 435.7 C274.2 435.7 286.2 435.8 295.3 435.8 C304.4 435.8 308.6 436.1 315.6 435.8 C322.6 435.5 327.9 434.5 334.0 433.9 C340.1 433.3 340.4 432.7 349.3 432.5 C358.2 432.3 370.8 432.8 383.2 432.9 C395.6 433.0 411.7 432.9 418.0 432.9"/>
<path d="M42.0 436.7 C48.1 436.9 63.8 437.4 76.0 437.9 C88.2 438.4 100.3 439.1 110.0 439.5 C119.7 439.9 122.2 439.9 130.0 440.2 C137.8 440.5 145.0 440.5 153.4 440.9 C161.8 441.3 169.3 442.2 176.8 442.6 C184.3 443.0 190.0 442.8 195.0 442.9 C200.0 443.0 203.0 443.0 204.8 443.0"/>
<path d="M222.0 443.4 C226.6 443.5 239.8 444.2 247.5 444.1 C255.2 444.0 258.9 443.4 265.0 443.1 C271.1 442.8 272.1 442.6 281.2 442.5 C290.3 442.4 306.1 443.1 315.6 442.8 C325.1 442.5 327.9 441.3 334.0 440.6 C340.1 439.9 343.4 439.5 349.3 439.0 C355.2 438.5 354.4 438.1 366.8 437.9 C379.2 437.7 408.8 437.8 418.0 437.8"/>
<path d="M42.0 446.5 L76.0 448.4 L93.0 449.6 L101.0 450.2 L383.0 450.2 L395.0 449.5 L404.0 448.5 L418.0 446.9"/>
</g>
<g clip-path="url(#cpc)">
<g transform="translate(143.1 362.9) rotate(0.0)">
<text x="0" y="2.3" font-size="6.3" text-anchor="middle">200</text>
</g>
<g transform="translate(240.0 363.2) rotate(0.0)">
<text x="0" y="2.3" font-size="6.3" text-anchor="middle">100</text>
</g>
<g transform="translate(330.9 356.8) rotate(76.0)">
<text x="0" y="2.3" font-size="6.3" text-anchor="middle">200</text>
</g>
<g transform="translate(213.5 406.4) rotate(0.0)">
<text x="0" y="2.3" font-size="6.3" text-anchor="middle">100</text>
</g>
<g transform="translate(227.3 413.4) rotate(-8.0)">
<text x="0" y="2.3" font-size="6.3" text-anchor="middle">200</text>
</g>
<g transform="translate(244.5 428.3) rotate(-3.0)">
<text x="0" y="2.3" font-size="6.3" text-anchor="middle">200</text>
</g>
<g transform="translate(213.7 443.1) rotate(0.0)">
<text x="0" y="2.3" font-size="6.3" text-anchor="middle">100</text>
</g>
<g transform="translate(247.2 333.0) rotate(0.0)">
<text x="0" y="2.3" font-size="6.3" text-anchor="middle">100</text>
</g>
</g>
<rect x="42.0" y="332.1" width="376.0" height="119.5" fill="none" stroke="#111" stroke-width="1.00"/>
<path d="M42.0 332.50H418.0" stroke="#000" stroke-width="1.30" fill="none"/>
<path d="M42.0 332.1h-2.9M42.0 352.1h-2.9M42.0 372.0h-2.9M42.0 391.9h-2.9M42.0 411.8h-2.9M42.0 431.7h-2.9M42.0 451.6h-2.9M42.0 451.6v2.9M76.2 451.6v2.9M110.4 451.6v2.9M144.5 451.6v2.9M178.7 451.6v2.9M212.9 451.6v2.9M247.1 451.6v2.9M281.3 451.6v2.9M315.5 451.6v2.9M349.6 451.6v2.9M383.8 451.6v2.9M418.0 451.6v2.9" stroke="#111" stroke-width="1.00" fill="none"/>
<text x="35.7" y="335.2" font-size="8.3" text-anchor="end">90</text>
<text x="35.7" y="355.2" font-size="8.3" text-anchor="end">60</text>
<text x="35.7" y="375.1" font-size="8.3" text-anchor="end">30</text>
<text x="35.7" y="395.0" font-size="8.3" text-anchor="end">0</text>
<text x="35.7" y="414.9" font-size="8.3" text-anchor="end">−30</text>
<text x="35.7" y="434.8" font-size="8.3" text-anchor="end">−60</text>
<text x="35.7" y="454.7" font-size="8.3" text-anchor="end">−90</text>
<text x="41.7" y="464.0" font-size="8.3" text-anchor="middle">J</text>
<text x="75.9" y="464.0" font-size="8.3" text-anchor="middle">F</text>
<text x="110.1" y="464.0" font-size="8.3" text-anchor="middle">M</text>
<text x="144.2" y="464.0" font-size="8.3" text-anchor="middle">A</text>
<text x="178.4" y="464.0" font-size="8.3" text-anchor="middle">M</text>
<text x="212.6" y="464.0" font-size="8.3" text-anchor="middle">J</text>
<text x="246.8" y="464.0" font-size="8.3" text-anchor="middle">J</text>
<text x="281.0" y="464.0" font-size="8.3" text-anchor="middle">A</text>
<text x="315.2" y="464.0" font-size="8.3" text-anchor="middle">S</text>
<text x="349.3" y="464.0" font-size="8.3" text-anchor="middle">O</text>
<text x="383.5" y="464.0" font-size="8.3" text-anchor="middle">N</text>
<text x="417.7" y="464.0" font-size="8.3" text-anchor="middle">D</text>
<text x="230.5" y="328.0" font-size="9.90" text-anchor="middle">Transient EKE at 300 hPa</text>
<text x="41.9" y="327.0" font-size="16.0">c</text>
<text transform="translate(14.5 393.6) rotate(-90)" font-size="9.1" text-anchor="middle">Latitude</text>
</g>
<text x="229.1" y="477.9" font-size="9.1" text-anchor="middle">Month</text>
</svg></body></html>
